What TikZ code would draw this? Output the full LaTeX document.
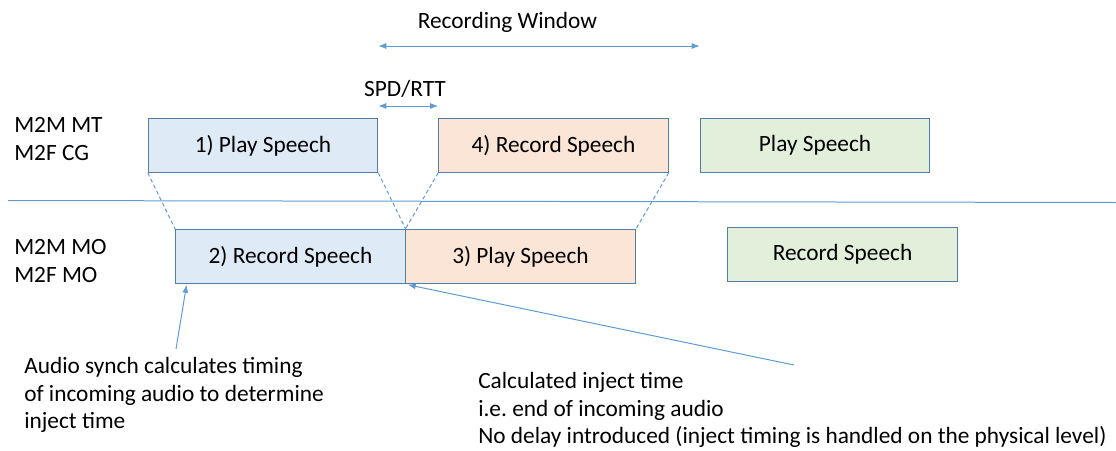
\documentclass[tikz,border=0pt]{standalone}
\usepackage{fontspec}
\setmainfont{Carlito}
\usetikzlibrary{arrows.meta}
\frenchspacing

\definecolor{boxline}{RGB}{84,125,170}
\definecolor{lineblue}{RGB}{95,155,213}
\definecolor{bluefill}{RGB}{222,235,247}
\definecolor{orangefill}{RGB}{251,229,214}
\definecolor{greenfill}{RGB}{226,239,218}

\tikzstyle{phase}=[draw=boxline,line width=0.9pt,minimum width=172pt,minimum height=40pt,inner sep=0pt]
\tikzstyle{rowtag}=[inner sep=0pt,align=left,anchor=west]
\tikzstyle{note}=[inner sep=0pt,align=left,anchor=west]
\tikzstyle{wire}=[draw=lineblue,line width=0.75pt]
\tikzstyle{span}=[wire,{Latex[length=6pt,width=4.5pt]}-{Latex[length=6pt,width=4.5pt]}]
\tikzstyle{guide}=[wire,densely dashed]
\tikzstyle{pointer}=[wire,-{Latex[length=6pt,width=4.5pt]}]

\begin{document}
\begin{tikzpicture}[x=0.75pt,y=-0.75pt,font=\fontsize{17.5}{20.5}\selectfont]
  \useasboundingbox (0,0) rectangle (1116,450);
  % the speech phases, upper row then lower row
  \foreach \pos/\name/\col/\la in {{(263,145.5)/play1/bluefill/1) Play Speech}, {(553.5,145.5)/rec4/orangefill/4) Record Speech},
      {(815,145.5)/playg/greenfill/Play Speech}, {(290.5,256.5)/rec2/bluefill/2) Record Speech},
      {(520.5,256.5)/play3/orangefill/3) Play Speech}, {(842.5,254.5)/recg/greenfill/Record Speech}}
    \node[phase,fill=\col] (\name) at \pos {\la};
  % who is on which row
  \node[rowtag] (mt) at (14,139) {M2M MT\\M2F CG};
  \node[rowtag] (mo) at (14,261) {M2M MO\\M2F MO};
  % divider between the two rows
  \coordinate (sepl) at (8,200.5);
  \coordinate (sepr) at (1116,202.5);
  \path[wire] (sepl) -- (sepr);
  % dashed guides from the upper phases to the lower ones
  \foreach \source/\dest in {play1.south west/rec2.north west, play1.south east/rec2.north east,
      rec4.south west/play3.north west, rec4.south east/play3.north east}
    \path[guide] (\source) -- (\dest);
  % recording window and SPD/RTT
  \node (rw) at (507.5,22.5) {Recording Window};
  \coordinate (rwl) at (play1.east |- 0,46);
  \coordinate (rwr) at (playg.west |- 0,46);
  \path[span] (rwl) -- (rwr);
  \node (spd) at (405,89) {SPD/RTT};
  \coordinate (spdl) at (play1.east |- 0,106);
  \coordinate (spdr) at (rec4.west |- 0,106);
  \path[span] (spdl) -- (spdr);
  % the notes and what they point at
  \node[note] (synch) at (24,395) {Audio synch calculates timing\\of incoming audio to determine\\inject time};
  \node[note] (inject) at (478,410) {Calculated inject time\\i.e. end of incoming audio\\No delay introduced (inject timing is handled on the physical level)};
  \coordinate (synchtail) at (176,349);
  \coordinate (injecttail) at (794,365);
  \path[pointer] (synchtail) -- ([xshift=8.5pt,yshift=-0.75pt]rec2.south west);
  \path[pointer] (injecttail) -- ([xshift=1.5pt,yshift=-0.75pt]rec2.south east);
\end{tikzpicture}
\end{document}
